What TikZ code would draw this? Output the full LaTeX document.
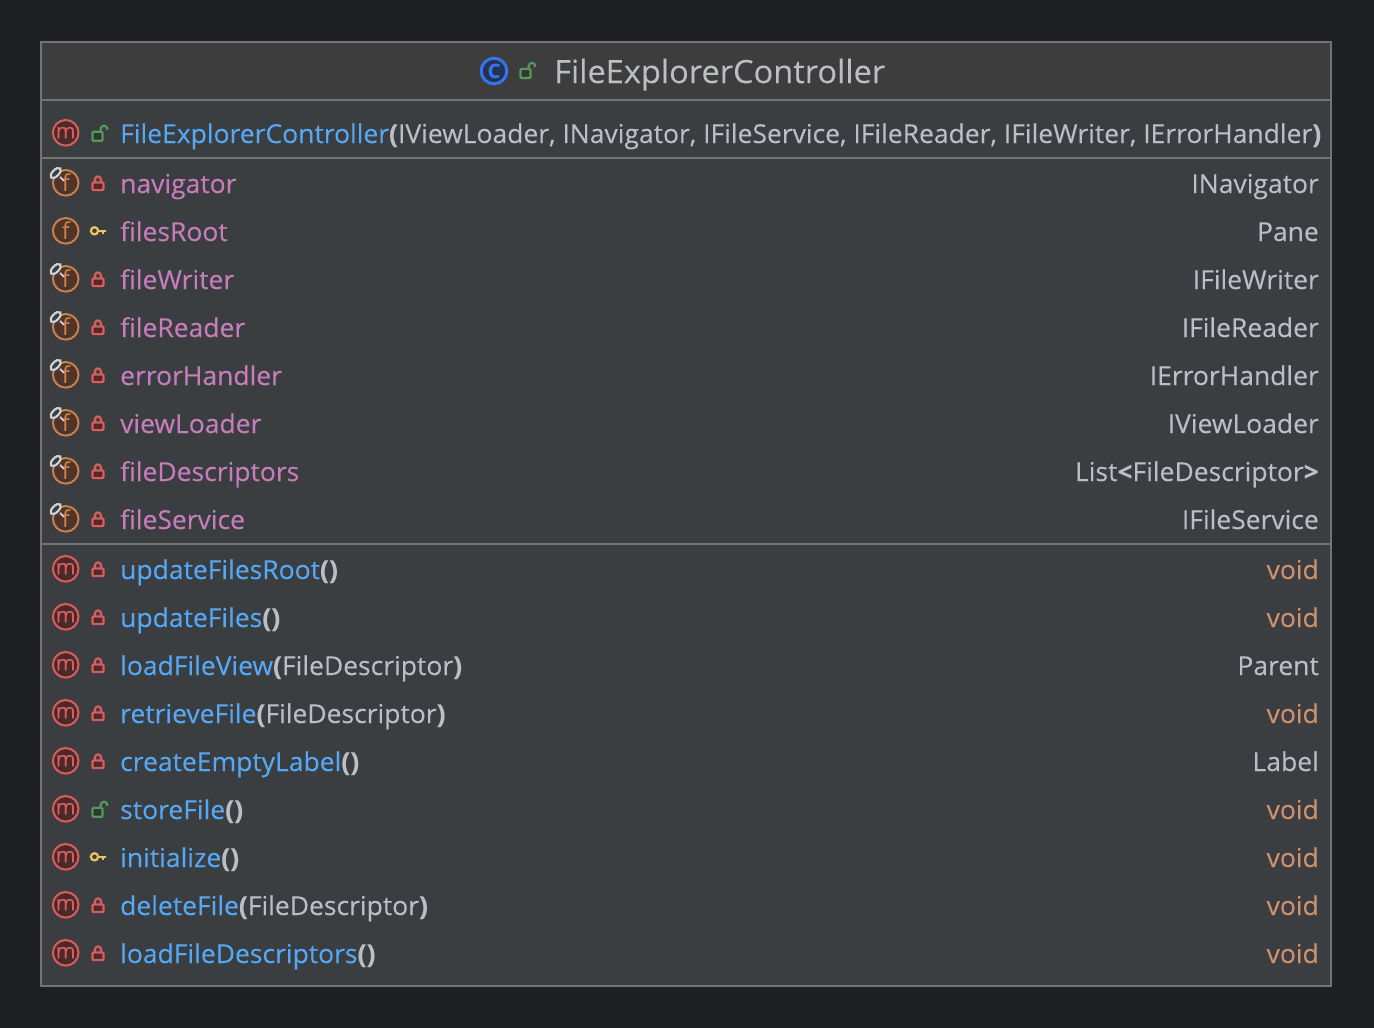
\documentclass[tikz,border=0pt]{standalone}
\usepackage{fontspec}
\setmainfont[FakeStretch=1.018,FakeBold=0.12]{Open Sans}
\definecolor{pagebg}{HTML}{1E1F22}
\definecolor{headbg}{HTML}{3D3D3D}
\definecolor{bodybg}{HTML}{3B3E41}
\definecolor{edge}{HTML}{737373}
\definecolor{blueT}{HTML}{56A8F5}
\definecolor{pinkT}{HTML}{C77DBB}
\definecolor{grayT}{HTML}{BCBEC4}
\definecolor{orangeT}{HTML}{CF8E6D}
\definecolor{redI}{HTML}{DB5C5C}
\definecolor{redF}{HTML}{4A2A2A}
\definecolor{fI}{HTML}{C77F50}
\definecolor{fF}{HTML}{4E3528}
\definecolor{greenI}{HTML}{57965C}
\definecolor{greenF}{HTML}{2A3A2C}
\definecolor{keyI}{HTML}{F2C55C}
\definecolor{pinI}{HTML}{CED0D6}
\definecolor{cI}{HTML}{3574F0}
\definecolor{cF}{HTML}{25324D}
\newcommand{\rowsize}{\fontsize{26}{30}\selectfont}
\newcommand{\titlesize}{\fontsize{32}{38}\selectfont}
\newcommand{\pb}[1]{\textbf{#1}}
\tikzset{
  lefttext/.style={anchor=base west,inner sep=0pt,font=\rowsize},
  righttext/.style={anchor=base east,inner sep=0pt,font=\rowsize},
  titletext/.style={anchor=base west,inner sep=0pt,font=\titlesize,text=grayT},
  iconring/.style={line width=2pt},
  lockline/.style={line width=2.2pt,line join=round},
  sep/.style={draw=edge,line width=2pt},
}
% y = row centre
\newcommand{\lockI}[1]{%
  \draw[lockline,draw=redI] (94.8,#1) -- (94.8,#1-2.5) .. controls (94.8,#1-7.8) and (101.2,#1-7.8) .. (101.2,#1-2.5) -- (101.2,#1);
  \draw[lockline,draw=redI,fill=redF,rounded corners=1pt] (92.5,#1-.3) rectangle (103.5,#1+7.2);}
\newcommand{\openI}[1]{%
  \draw[lockline,draw=greenI] (100.5,#1) -- (100.5,#1-3) .. controls (100.5,#1-8.5) and (107.5,#1-8.5) .. (107.5,#1-3);
  \draw[lockline,draw=greenI,fill=greenF,rounded corners=1pt] (92.5,#1-1) rectangle (102.5,#1+8);}
\newcommand{\keyI}[1]{%
  \draw[line width=2.2pt,draw=keyI] (94.5,#1) circle (3.6);
  \draw[line width=2.2pt,draw=keyI] (98,#1) -- (106,#1) (103,#1) -- (103,#1+3.5);}
\newcommand{\mI}[2]{%
  \draw[iconring,draw=redI,fill=redF] (65.7,#1) circle (12.8);
  \node[inner sep=0pt,anchor=base,text=redI,font=\fontsize{21}{21}\selectfont] (#2) at (65.7,#1+5.5) {m};}
\newcommand{\fI}[2]{%
  \draw[iconring,draw=fI,fill=fF] (65.7,#1) circle (12.8);
  \node[inner sep=0pt,anchor=base,text=fI,font=\fontsize{23}{23}\selectfont] (#2) at (65.7,#1+8) {f};}
\newcommand{\pinI}[1]{%
  \draw[line width=1.8pt,draw=pinI] (60,#1-5.8) -- (64,#1-2);
  \draw[line width=2.2pt,draw=pinI,fill=bodybg,rotate around={45:(55.7,#1-9.8)}] (55.7,#1-9.8) ellipse [x radius=6.4,y radius=3.2];}
% \fieldrow{name}{centre}{access}{text}{type}
\newcommand{\fieldrow}[5]{%
  \fI{#2-1.2}{#1i}
  \ifx#3p\pinI{#2-1.2}\lockI{#2-1.2}\else\keyI{#2-1.2}\fi
  \node[lefttext,text=pinkT] (#1) at (120,#2+9) {#4};
  \node[righttext,text=grayT] (#1t) at (1319,#2+9) {#5};}
% \methodrow{name}{centre}{access}{text}{args}{type}{typecolour}
\newcommand{\methodrow}[7]{%
  \mI{#2-1.2}{#1i}
  \ifx#3l\lockI{#2-1.2}\else\ifx#3o\openI{#2-1.2}\else\keyI{#2-1.2}\fi\fi
  \node[lefttext,text=blueT] (#1) at (120,#2+9) {#4\textcolor{grayT}{\pb{(}#5\pb{)}}};
  \node[righttext,text=#7] (#1t) at (1319,#2+9) {#6};}
\begin{document}
\begin{tikzpicture}[x=1pt,y=-1pt]
\useasboundingbox (0,0) rectangle (1374,1028);
\fill[pagebg] (0,0) rectangle (1374,1028);
\fill[bodybg] (41,42) rectangle (1331,986);
\fill[headbg] (41,42) rectangle (1331,100);
\draw[sep] (41,100) -- (1331,100);
\draw[sep] (41,158) -- (1331,158);
\draw[sep] (41,544) -- (1331,544);
\draw[draw=edge,line width=2pt] (41,42) rectangle (1331,986);
% title
\draw[line width=3pt,draw=cI,fill=cF] (494,71) circle (12.8);
\node[inner sep=0pt,anchor=base,text=cI,font=\bfseries\fontsize{20}{20}\selectfont] (cicon) at (494,78) {C};
\begin{scope}[xshift=428pt]\openI{70}\end{scope}
\node[titletext] (title) at (554,83) {FileExplorerController};
% constructor
\mI{132.8}{ctori}
\openI{132.8}
\node[lefttext,text=blueT] (ctor) at (120,143) {FileExplorerController\textcolor{grayT}{\pb{(}IViewLoader, INavigator, IFileService, IFileReader, IFileWriter, IErrorHandler\pb{)}}};
% fields
\fieldrow{navigator}{184}{p}{navigator}{INavigator}
\fieldrow{filesRoot}{232}{k}{filesRoot}{Pane}
\fieldrow{fileWriter}{280}{p}{fileWriter}{IFileWriter}
\fieldrow{fileReader}{328}{p}{fileReader}{IFileReader}
\fieldrow{errorHandler}{376}{p}{errorHandler}{IErrorHandler}
\fieldrow{viewLoader}{424}{p}{viewLoader}{IViewLoader}
\fieldrow{fileDescriptors}{472}{p}{fileDescriptors}{List\pb{<}FileDescriptor\pb{>}}
\fieldrow{fileService}{520}{p}{fileService}{IFileService}
% methods
\methodrow{updateFilesRoot}{570}{l}{updateFilesRoot}{}{void}{orangeT}
\methodrow{updateFiles}{618}{l}{updateFiles}{}{void}{orangeT}
\methodrow{loadFileView}{666}{l}{loadFileView}{FileDescriptor}{Parent}{grayT}
\methodrow{retrieveFile}{714}{l}{retrieveFile}{FileDescriptor}{void}{orangeT}
\methodrow{createEmptyLabel}{762}{l}{createEmptyLabel}{}{Label}{grayT}
\methodrow{storeFile}{810}{o}{storeFile}{}{void}{orangeT}
\methodrow{initialize}{858}{k}{initialize}{}{void}{orangeT}
\methodrow{deleteFile}{906}{l}{deleteFile}{FileDescriptor}{void}{orangeT}
\methodrow{loadFileDescriptors}{954}{l}{loadFileDescriptors}{}{void}{orangeT}
\end{tikzpicture}
\end{document}
